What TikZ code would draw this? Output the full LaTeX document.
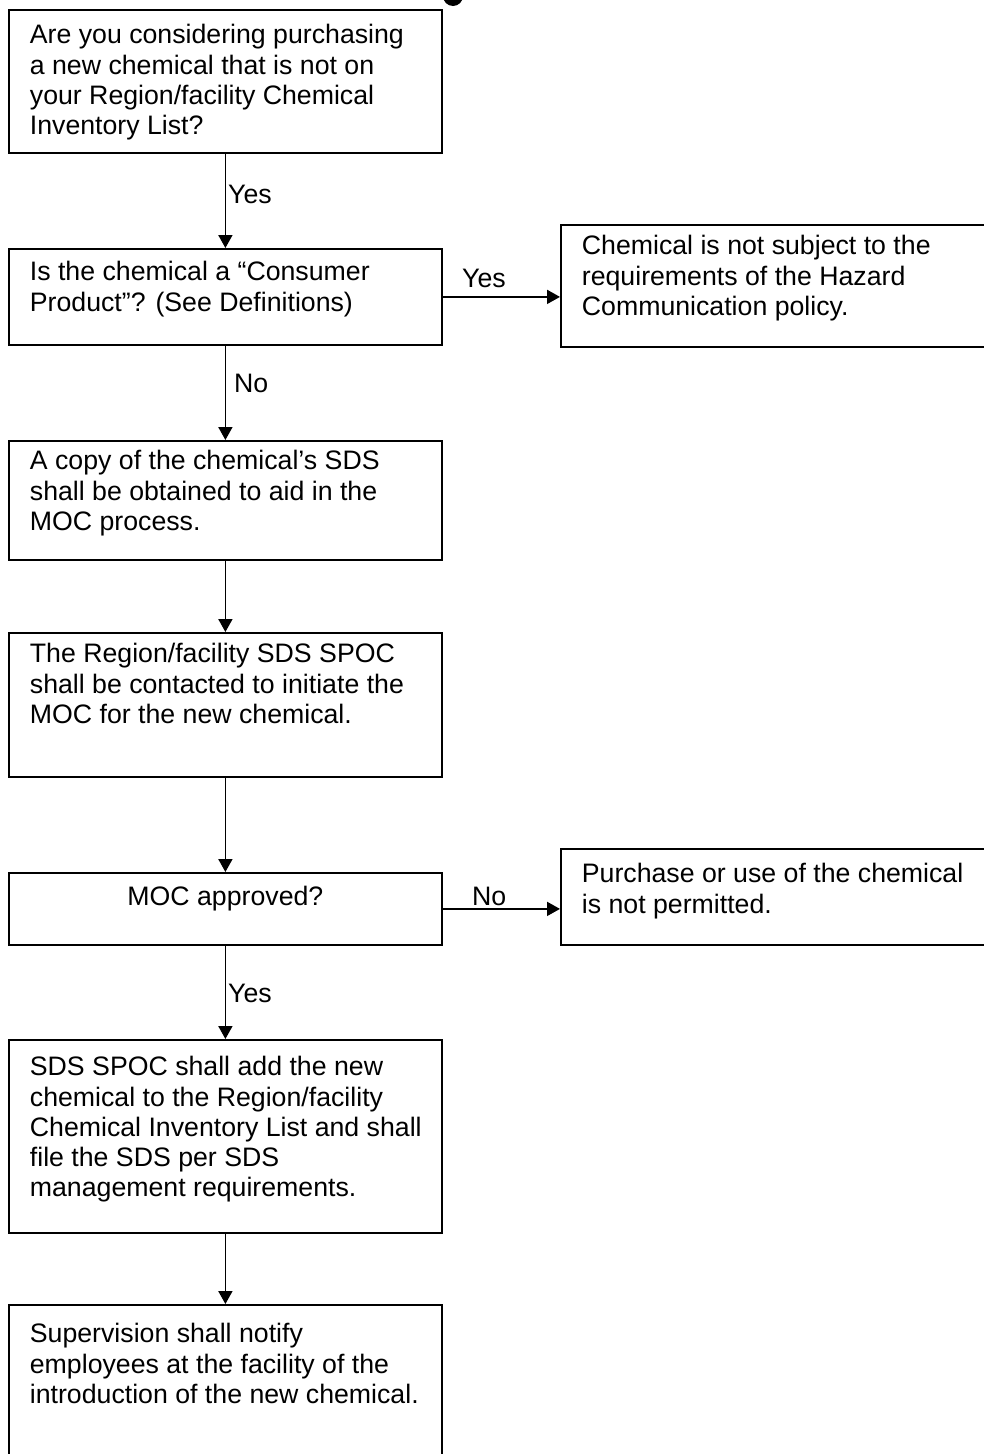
\documentclass[tikz,border=0pt]{standalone}
\usepackage{fontspec}
\setmainfont{Liberation Sans}
\usetikzlibrary{arrows.meta}
\newcommand{\fs}{\fontsize{26.7}{30.2}\selectfont}
% box text: width, height, first-baseline offset, text
\newcommand{\bx}[4]{\hspace*{21pt}\parbox[c][#2][t]{#1}{\raggedright\rule{0pt}{#3}#4}}
\newcommand{\bxc}[4]{\parbox[c][#2][t]{#1}{\centering\rule{0pt}{#3}#4}}
\tikzset{
  flowbox/.style={draw, line width=1.8pt, inner sep=0pt, anchor=north west, font=\fs},
  arr/.style={line width=1.8pt, -{Triangle[length=13pt,width=14pt]}},
  lbl/.style={inner sep=0pt, font=\fs, anchor=base west}
}
\begin{document}
\begin{tikzpicture}[x=1pt,y=-1pt]
\useasboundingbox (0,0) rectangle (984,1454);
\clip (0,0) rectangle (984,1454);
\fill (453,-4) circle (10);
\node[flowbox] (b1) at (8,9) {\bx{412pt}{143pt}{34pt}{Are you considering purchasing\\ a new chemical that is not on\\ your Region/facility Chemical\\ Inventory List?}};
\node[flowbox] (b2) at (8,248) {\bx{412pt}{96pt}{32pt}{Is the chemical a “Consumer\\ Product”? (See Definitions)}};
\node[flowbox] (b3) at (560,224) {\bx{419pt}{122pt}{30pt}{Chemical is not subject to the\\ requirements of the Hazard\\ Communication policy.}};
\node[flowbox] (b4) at (8,440) {\bx{412pt}{119pt}{29pt}{A copy of the chemical’s SDS\\ shall be obtained to aid in the\\ MOC process.}};
\node[flowbox] (b5) at (8,632) {\bx{412pt}{144pt}{30pt}{The Region/facility SDS SPOC\\ shall be contacted to initiate the\\ MOC for the new chemical.}};
\node[flowbox] (b6) at (8,872) {\bxc{433pt}{72pt}{33pt}{MOC approved?}};
\node[flowbox] (b7) at (560,848) {\bx{419pt}{96pt}{34pt}{Purchase or use of the chemical\\ is not permitted.}};
\node[flowbox] (b8) at (8,1039) {\bx{412pt}{193pt}{36pt}{SDS SPOC shall add the new\\ chemical to the Region/facility\\ Chemical Inventory List and shall\\ file the SDS per SDS\\ management requirements.}};
\node[flowbox] (b9) at (8,1304) {\bx{412pt}{170pt}{38pt}{Supervision shall notify\\ employees at the facility of the\\ introduction of the new chemical.}};
\draw[arr] (b1) -- (b2);
\draw[arr] (b2) -- (b4);
\draw[arr] (b4) -- (b5);
\draw[arr] (b5) -- (b6);
\draw[arr] (b6) -- (b8);
\draw[arr] (b8) -- (b9);
\draw[arr] (b2.east) -- (b2.east -| b3.west);
\draw[arr] (b6.east) -- (b6.east -| b7.west);
\node[lbl] (l1) at (228,203) {Yes};
\node[lbl] (l2) at (234,392) {No};
\node[lbl] (l3) at (228,1002) {Yes};
\node[lbl] (l4) at (462,287) {Yes};
\node[lbl] (l5) at (472,905) {No};
\end{tikzpicture}
\end{document}
